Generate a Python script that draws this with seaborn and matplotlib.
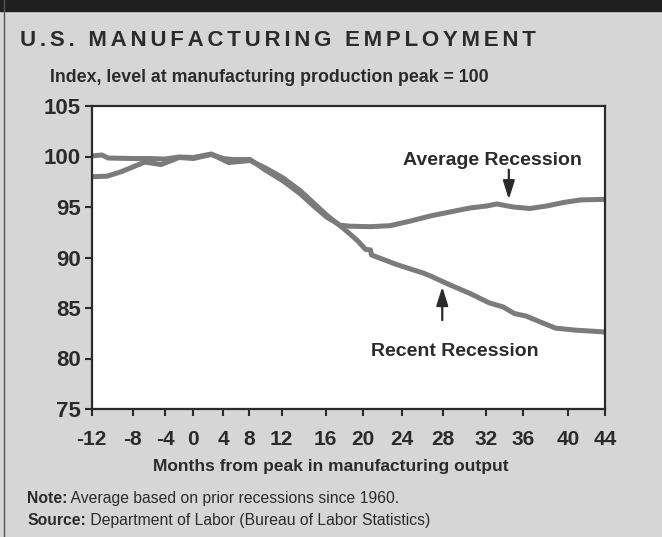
import numpy as np
import pandas as pd
import matplotlib
matplotlib.use("Agg")
import matplotlib.pyplot as plt
from matplotlib.patches import Rectangle
from matplotlib.lines import Line2D
import seaborn as sns

# ---- data -------------------------------------------------------------
recent_months = [-12, -11, -10.4, -8, -6, -4, -2, 0, 2.4, 4.8, 8.1, 9.9,
                 12.1, 13.7, 14.9, 16.1, 17.2, 17.9, 19.4, 20.3, 20.8, 20.9,
                 23.5, 26.1, 26.7, 28.6, 30.5, 32.4, 33.9, 35.1, 36.3, 37.8,
                 38.9, 40.9, 43.6, 44]
recent_index = [100.05, 100.15, 99.85, 99.8, 99.8, 99.75, 99.95, 99.9, 100.25,
                99.4, 99.6, 98.9, 97.9, 96.6, 95.4, 94.2, 93.4, 92.9, 91.7,
                90.8, 90.75, 90.25, 89.3, 88.45, 88.2, 87.3, 86.45, 85.5,
                85.1, 84.45, 84.2, 83.5, 83.0, 82.8, 82.65, 82.6]

average_months = [-12, -10.5, -9.1, -6.5, -4.5, -2, 0, 2.4, 4, 5.5, 8.1, 9.9,
                  12.1, 13.7, 14.9, 16.1, 17.2, 17.55, 18.6, 20.75, 22.8, 24.8,
                  26.7, 28.6, 30.5, 32.1, 33.2, 35.0, 36.6, 38.1, 39.6, 41.3,
                  43.6, 44]
average_index = [98.0, 98.05, 98.5, 99.45, 99.2, 99.9, 99.8, 100.2, 99.8, 99.7,
                 99.7, 98.7, 97.6, 96.3, 95.1, 94.0, 93.4, 93.2, 93.1, 93.05,
                 93.15, 93.6, 94.1, 94.5, 94.9, 95.1, 95.3, 95.0, 94.85, 95.1,
                 95.45, 95.7, 95.75, 95.75]

x_ticks = list(range(-12, 45, 4))
y_ticks = [75, 80, 85, 90, 95, 100, 105]

title = "U.S. MANUFACTURING EMPLOYMENT"
subtitle = "Index, level at manufacturing production peak = 100"
x_label = "Months from peak in manufacturing output"
note_head, note_body = "Note:", " Average based on prior recessions since 1960."
source_head, source_body = "Source:", " Department of Labor (Bureau of Labor Statistics)"

df = pd.concat([
    pd.DataFrame({"month": recent_months, "index": recent_index,
                  "series": "Recent Recession"}),
    pd.DataFrame({"month": average_months, "index": average_index,
                  "series": "Average Recession"}),
])

# ---- style ------------------------------------------------------------
sns.set_style("ticks")
plt.rcParams["font.family"] = ["Liberation Sans", "DejaVu Sans"]
INK = "#2b2b2b"
LINE = "#7b7b7b"
PAPER = "#d6d6d6"

W, H = 662, 537
fig = plt.figure(figsize=(W / 100, H / 100), dpi=100, facecolor=PAPER)

# header band and left rule
fig.patches.append(Rectangle((0, 1 - 11 / H), 1, 11 / H, transform=fig.transFigure,
                             color="#1f1f1f", zorder=0))
fig.lines.append(Line2D([4 / W, 4 / W], [0, 1], transform=fig.transFigure,
                        color="#555555", lw=1))

left, right, top, bottom = 91.7, 605, 106, 409
ax = fig.add_axes([left / W, 1 - bottom / H, (right - left) / W, (bottom - top) / H])
ax.set_facecolor("white")

# the month axis is printed with uneven tick spacing; reproduce it as a
# piecewise-linear scale through the printed tick stops
stop_px = np.array([91.7, 132.7, 165, 193.3, 223.3, 249.3, 281.7, 325.7,
                    362.7, 401.7, 443.3, 485.7, 522.7, 568.3, 605])
stop_month = np.array(x_ticks, dtype=float)


def fwd(x):
    return np.interp(x, stop_month, stop_px)


def inv(p):
    return np.interp(p, stop_px, stop_month)


ax.set_xscale("function", functions=(fwd, inv))

sns.lineplot(data=df, x="month", y="index", units="series", estimator=None,
             color=LINE, lw=3.6, sort=False, ax=ax, legend=False,
             solid_capstyle="butt")

ax.set_xlim(-12, 44)
ax.set_ylim(75, 105)
ax.set_xticks(x_ticks)
ax.set_xticklabels([str(v) for v in x_ticks])
ax.set_yticks(y_ticks)
ax.set_yticklabels([str(v) for v in y_ticks])
ax.tick_params(axis="both", direction="out", length=5, width=1.5, color=INK,
               labelcolor=INK)
ax.tick_params(axis="x", labelsize=15, pad=10)
ax.tick_params(axis="y", labelsize=16, pad=3)
for lab in ax.get_xticklabels() + ax.get_yticklabels():
    lab.set_fontweight("bold")
for sp in ax.spines.values():
    sp.set_visible(True)
    sp.set_linewidth(1.6)
    sp.set_color(INK)

ax.set_ylabel("")
ax.set_xlabel(x_label, fontsize=12.5, fontweight="bold", color=INK)
ax.xaxis.set_label_coords((331 - left) / (right - left), (bottom - 466) / (bottom - top))
ax.xaxis.label.set_va("center")

# series labels and pointers
arrow_style = dict(arrowstyle="-|>,head_length=0.7,head_width=0.22", lw=1.6,
                   color=INK, mutation_scale=16, shrinkA=0, shrinkB=0)
ax.text(32.7, 99.65, "Average Recession", ha="center", va="center",
        fontsize=14, fontweight="bold", color=INK)
ax.annotate("", xy=(34.5, 95.75), xytext=(34.5, 98.7), arrowprops=arrow_style)
ax.text(29.1, 80.65, "Recent Recession", ha="center", va="center",
        fontsize=14, fontweight="bold", color=INK)
ax.annotate("", xy=(27.9, 87.1), xytext=(27.9, 83.8), arrowprops=arrow_style)

# headings (title is letter-spaced)
fig.text(20 / W, 1 - 40 / H, "\u200a\u200a".join(title), fontsize=16,
         fontweight="bold", color=INK, va="center", ha="left")
fig.text(50 / W, 1 - 78 / H, subtitle, fontsize=12.8, fontweight="bold",
         color=INK, va="center", ha="left")

# footnotes: bold lead-in followed by regular text on a shared baseline
renderer = fig.canvas.get_renderer()
for y_px, head, body in [(503, note_head, note_body), (525, source_head, source_body)]:
    t = fig.text(27 / W, 1 - y_px / H, head, fontsize=11.3, fontweight="bold",
                 color=INK, va="baseline", ha="left")
    bb = t.get_window_extent(renderer)
    fig.text(bb.x1 / W, 1 - y_px / H, body, fontsize=11.3, color=INK,
             va="baseline", ha="left")

fig.savefig("out.png", dpi=100, facecolor=PAPER)
